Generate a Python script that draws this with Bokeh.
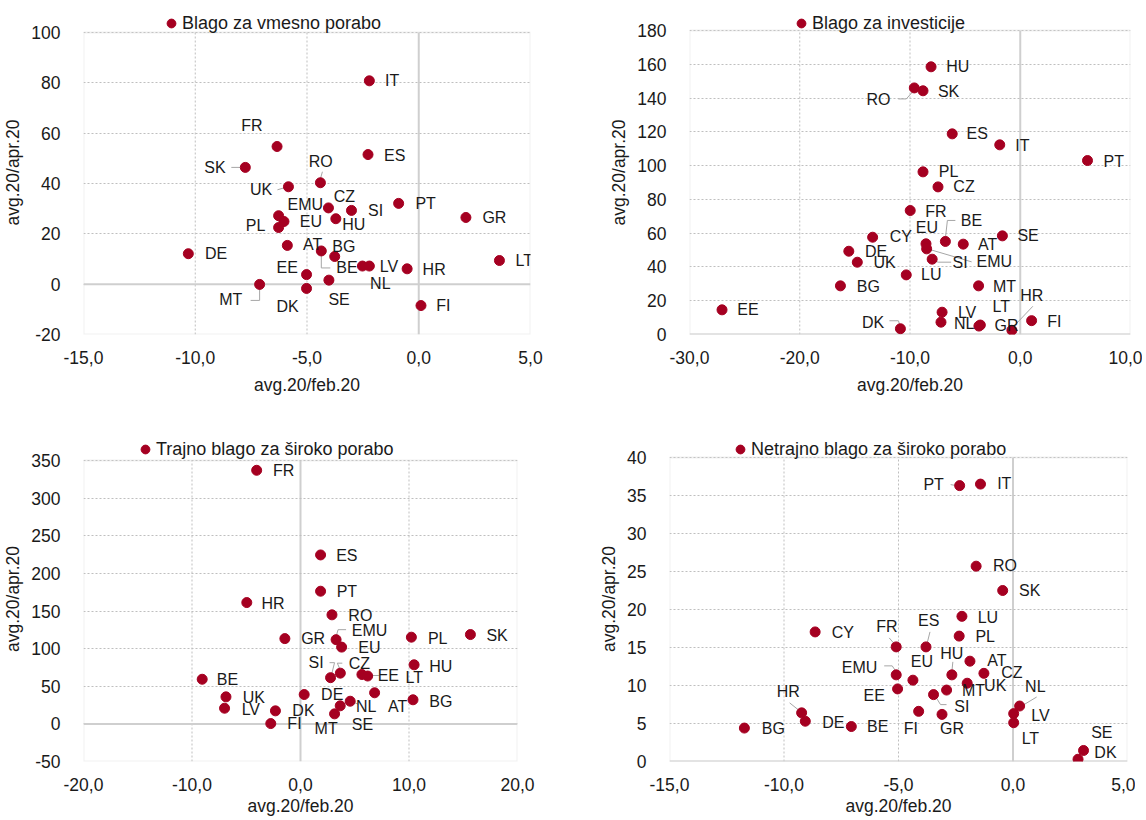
from bokeh.plotting import figure
from bokeh.models import (ColumnDataSource, FixedTicker, CustomJSTickFormatter, Span,
                          Legend, LegendItem, Range1d, BoxAnnotation)
from bokeh.layouts import column, row
from bokeh.embed import file_html
from bokeh.resources import INLINE
from bokeh.core.properties import value

# ---------------- data ----------------
X_TITLE = "avg.20/feb.20"
Y_TITLE = "avg.20/apr.20"

p1_title = "Blago za vmesno porabo"
p1_labels = ["IT", "FR", "ES", "SK", "RO", "UK", "PT", "CZ", "EMU", "SI", "GR", "HU", "EU", "PL",
             "DE", "AT", "BG", "BE", "NL", "LV", "HR", "LT", "EE", "SE", "MT", "DK", "FI"]
p1_x = [-2.21, -6.34, -2.27, -7.76, -4.40, -5.83, -0.90, -4.04, -6.27, -3.01, 2.11, -3.71, -6.03, -6.27,
        -10.31, -5.88, -3.76, -4.36, -2.52, -2.21, -0.52, 3.61, -5.02, -4.02, -7.12, -5.02, 0.10]
p1_y = [80.8, 54.7, 51.5, 46.4, 40.3, 38.7, 32.1, 30.3, 27.2, 29.3, 26.5, 26.0, 24.9, 22.5,
        12.1, 15.4, 11.0, 13.2, 7.2, 7.2, 6.1, 9.4, 3.8, 1.6, -0.1, -1.7, -8.5]
p1_xticks = [-15, -10, -5, 0, 5]
p1_yticks = [-20, 0, 20, 40, 60, 80, 100]

p2_title = "Blago za investicije"
p2_labels = ["HU", "RO", "SK", "ES", "IT", "PT", "PL", "CZ", "FR", "CY", "EU", "BE", "AT", "SE", "EMU",
             "SI", "DE", "UK", "LU", "BG", "MT", "EE", "LV", "NL", "LT", "GR", "HR", "FI", "DK"]
p2_x = [-8.09, -9.61, -8.82, -6.17, -1.86, 6.10, -8.82, -7.46, -9.98, -13.39, -8.55, -6.79, -5.17, -1.62, -8.49,
        -7.99, -15.55, -14.78, -10.34, -16.31, -3.78, -27.05, -7.09, -7.19, -3.62, -3.75, -0.76, 1.03, -10.87]
p2_y = [158.5, 146.0, 144.3, 118.8, 112.3, 103.0, 96.3, 87.4, 73.4, 57.6, 53.7, 55.1, 53.5, 58.4, 50.7,
        44.6, 49.3, 42.8, 35.3, 28.8, 28.8, 14.6, 13.2, 7.3, 5.6, 5.0, 2.5, 8.2, 3.4]
p2_xticks = [-30, -20, -10, 0, 10]
p2_yticks = [0, 20, 40, 60, 80, 100, 120, 140, 160, 180]

p3_title = "Trajno blago za široko porabo"
p3_labels = ["FR", "ES", "PT", "HR", "RO", "GR", "EMU", "EU", "PL", "SK", "HU", "SI", "CZ", "EE",
             "LT", "BE", "UK", "LV", "DE", "AT", "NL", "SE", "MT", "DK", "FI", "BG"]
p3_x = [-4.04, 1.85, 1.85, -4.95, 2.90, -1.44, 3.28, 3.79, 10.22, 15.66, 10.47, 2.77, 3.67, 5.66,
        6.19, -9.06, -6.87, -7.00, 0.34, 6.83, 4.58, 3.66, 3.14, -2.31, -2.74, 10.37]
p3_y = [337.0, 224.5, 176.3, 161.2, 144.9, 113.3, 111.9, 102.0, 115.2, 118.7, 78.5, 61.4, 67.4, 65.6,
        63.6, 59.3, 35.9, 20.8, 39.0, 41.3, 30.1, 24.0, 13.3, 17.3, 0.4, 32.0]
p3_xticks = [-20, -10, 0, 10, 20]
p3_yticks = [-50, 0, 50, 100, 150, 200, 250, 300, 350]

p4_title = "Netrajno blago za široko porabo"
p4_labels = ["PT", "IT", "RO", "SK", "LU", "PL", "CY", "FR", "ES", "AT", "HU", "CZ", "UK", "MT", "EU",
             "EMU", "EE", "SI", "FI", "GR", "HR", "DE", "BE", "NL", "LV", "LT", "BG", "SE", "DK"]
p4_x = [-2.33, -1.42, -1.61, -0.45, -2.23, -2.35, -8.64, -5.10, -3.80, -1.88, -2.67, -1.27, -2.00, -2.90, -4.37,
        -5.10, -5.04, -3.47, -4.12, -3.10, -9.23, -9.07, -7.06, 0.29, 0.03, 0.03, -11.73, 3.08, 2.84]
p4_y = [36.3, 36.5, 25.7, 22.5, 19.1, 16.5, 17.05, 15.08, 15.08, 13.2, 11.4, 11.6, 10.3, 9.4, 10.7,
        11.4, 9.55, 8.8, 6.6, 6.2, 6.4, 5.3, 4.6, 7.3, 6.3, 5.1, 4.4, 1.45, 0.3]
p4_xticks = [-15, -10, -5, 0, 5]
p4_yticks = [0, 5, 10, 15, 20, 25, 30, 35, 40]

# ---------------- label placement (screen px, label centre relative to point, y down) ----------------
p1_offs = {"IT": (22.7, 0), "FR": (-25.2, -20.7), "ES": (26.7, 0.7), "SK": (-30.3, 0), "RO": (0.4, -21),
           "UK": (-27.4, 2.7), "PT": (27, 0), "CZ": (16, -11.7), "EMU": (26.7, -11.7), "SI": (24.1, 0),
           "GR": (28.5, 0), "HU": (17.9, 5.7), "EU": (27, 0), "PL": (-23, -1.7), "DE": (27.8, 0),
           "AT": (25.2, -1), "BG": (9.1, -10.3), "BE": (25.6, 16.3), "NL": (17.9, 17.3), "LV": (19.7, 0),
           "HR": (27, 0.7), "LT": (24.9, 0), "EE": (-19.4, -7), "SE": (10.2, 19.3), "MT": (-28.9, 15),
           "DK": (-19, 18.3), "FI": (22.3, 0)}
p1_lead = {"SK": [(-14, 0), (-5, 0)], "RO": [(2, -11), (0, -4)], "UK": [(-11, 3), (-4, 1)],
           "BE": [(0, 4), (0, 17), (9, 17)], "MT": [(0, 3), (0, 16), (-9, 16)]}

p2_offs = {"HU": (26.7, 0), "RO": (-35.8, 12), "SK": (25.6, 0.7), "ES": (24.9, 0), "IT": (22.7, 0.7),
           "PT": (26.3, 0.7), "PL": (25.6, 0), "CZ": (26, 0), "FR": (25.7, 0.7), "CY": (28.3, -0.7),
           "EU": (1, -16), "BE": (26, -20.7), "AT": (24.3, 0), "SE": (25.7, 0), "EMU": (67.7, 13),
           "SI": (28, 3.7), "DE": (27.3, 0), "UK": (27.3, 0.3), "LU": (25, 0), "BG": (28, 1), "MT": (26, 1),
           "EE": (26, 0), "LV": (25, 0), "NL": (23.3, 1), "LT": (21, -18.3), "GR": (27.7, -1),
           "HR": (20, -34.3), "FI": (22.7, 0.7), "DK": (-27.3, -6.7)}
p2_lead = {"RO": [(-16, 11), (-8, 11), (0, 2)], "BE": [(0, -3), (2, -21), (10, -21)],
           "EMU": [(1, 0), (45, 13)], "SI": [(1, 1), (6, 3), (19, 3)], "HR": [(1, -3), (21, -24)],
           "DK": [(-11, -8), (-2, -8), (0, -2)]}

p3_offs = {"FR": (27, 0.7), "ES": (26.3, 0.7), "PT": (26.3, 0.7), "HR": (26.3, 0.7), "RO": (28.4, 0.7),
           "GR": (28.3, 0.3), "EMU": (33.4, -9), "EU": (27.7, 0), "PL": (26.3, 1.6), "SK": (26.7, 0.7),
           "HU": (26.6, 1.4), "SI": (-14.4, -15.6), "CZ": (19, -10), "EE": (26.4, 1), "LT": (46.7, 1.4),
           "BE": (25.2, 0.7), "UK": (27.8, 0.7), "LV": (26.3, 1.7), "DE": (28, 0.3), "AT": (23, 13.7),
           "NL": (16, 5.3), "SE": (22.3, 18.7), "MT": (-8.4, 15), "DK": (28, -0.3), "FI": (23.7, 0.3),
           "BG": (27.8, 1.3)}
p3_lead = {"EMU": [(0, -3), (2, -10), (10, -10)], "SI": [(1, -3), (4, -15), (-1, -15)],
           "CZ": [(0, -3), (-3, -10), (2, -10)], "EE": [(7, 1), (17, 1)], "NL": [(1, 0), (8, 3)]}

p4_offs = {"PT": (-26, -1), "IT": (23.8, -0.7), "RO": (28.9, -0.7), "SK": (27, 0), "LU": (26, 0.7),
           "PL": (26, 0.3), "CY": (27.7, 1), "FR": (-9.3, -20.7), "ES": (2.7, -26), "AT": (27, -0.3),
           "HU": (0, -21.3), "CZ": (28, -0.7), "UK": (28, 2.3), "MT": (27, 0), "EU": (9, -19),
           "EMU": (-36.7, -7.3), "EE": (-23.3, 6.3), "SI": (28.3, 11.7), "FI": (-7.7, 17.3),
           "GR": (10, 14.3), "HR": (-13.3, -21.7), "DE": (28, 1), "BE": (26.3, 0.3), "NL": (15.7, -19.3),
           "LV": (26.7, 1.7), "LT": (16.7, 15.7), "BG": (28.9, 0), "SE": (18.3, -18), "DK": (27.4, -6.5)}
p4_lead = {"PT": [(-9, -1), (-3, 0)], "FR": [(-1, -2), (-7, -9)], "ES": [(1, -3), (4, -15)],
           "HU": [(0, -3), (1, -13)], "EMU": [(-12, -9), (-4, -9), (0, -3)],
           "SI": [(2, 2), (7, 10), (13, 10)], "HR": [(-12, -10), (-2, -2)], "NL": [(2, 0), (17, -9)]}

# ---------------- styling ----------------
FONT = "Liberation Sans"
RED = "#A50021"
TXT = "#1A1A1A"
GRID = "#BFBFBF"
ZERO = "#CFCFCF"
BOX = "#D0D0D0"
LEAD = "#A6A6A6"


def make_panel(title, labels, xs, ys, offs, leads, xr, yr, xticks, yticks,
               fw, fh_box, ext, borders, legend_xy, bottom_std):
    """The frame is ext px taller than the plot box so the legend row fits inside it."""
    bl, br, bt, bb = borders
    fh = fh_box + ext
    y_top = yr[1] + ext * (yr[1] - yr[0]) / fh_box
    p = figure(frame_width=fw, frame_height=fh, x_range=Range1d(*xr), y_range=Range1d(yr[0], y_top),
               output_backend="svg", toolbar_location=None,
               min_border_left=bl, min_border_right=br, min_border_top=bt, min_border_bottom=bb)
    p.outline_line_color = None
    p.xaxis.ticker = FixedTicker(ticks=xticks)
    p.yaxis.ticker = FixedTicker(ticks=yticks)
    p.xaxis.formatter = CustomJSTickFormatter(code="return tick.toFixed(1).replace('.', ',');")
    p.yaxis.formatter = CustomJSTickFormatter(code="return tick.toFixed(0);")
    for ax in (p.xaxis, p.yaxis):
        ax.axis_line_color = None
        ax.major_tick_line_color = None
        ax.minor_tick_line_color = None
        ax.major_label_text_font = FONT
        ax.major_label_text_font_size = "17.5px"
        ax.major_label_text_color = TXT
        ax.axis_label_text_font = FONT
        ax.axis_label_text_font_size = "17.5px"
        ax.axis_label_text_font_style = "normal"
        ax.axis_label_text_color = TXT
    p.xaxis.axis_label = X_TITLE
    p.yaxis.axis_label = Y_TITLE
    p.xaxis.major_label_standoff = bottom_std[0]
    p.xaxis.axis_label_standoff = bottom_std[1]
    p.yaxis.major_label_standoff = 17
    p.yaxis.axis_label_standoff = 5

    # horizontal grid from the y ticks; vertical grid limited to the plot box
    p.xgrid.visible = False
    p.ygrid.grid_line_color = GRID
    p.ygrid.grid_line_dash = "2 2"
    p.ygrid.grid_line_width = 1
    inner = [t for t in xticks if xr[0] < t < xr[1] and t != 0]
    p.segment(x0=inner, y0=[yr[0]] * len(inner), x1=inner, y1=[yr[1]] * len(inner),
              line_color=GRID, line_dash="2 2", line_width=1, level="underlay")
    p.segment(x0=[0], y0=[yr[0]], x1=[0], y1=[yr[1]], line_color=ZERO, line_width=2, level="underlay")
    p.add_layout(Span(location=0, dimension="width", line_color=ZERO, line_width=2, level="underlay"))
    p.add_layout(BoxAnnotation(left=xr[0], right=xr[1], bottom=yr[0], top=yr[1], fill_alpha=0,
                               line_color=BOX, line_width=2, level="underlay"))

    kx = (xr[1] - xr[0]) / fw
    ky = (y_top - yr[0]) / fh
    lx, ly = [], []
    for lab, x, y in zip(labels, xs, ys):
        if lab in leads:
            lx.append([x + dx * kx for dx, dy in leads[lab]])
            ly.append([y - dy * ky for dx, dy in leads[lab]])
    if lx:
        p.multi_line(lx, ly, line_color=LEAD, line_width=1)

    src = ColumnDataSource(dict(x=xs, y=ys, label=labels,
                                dx=[offs[l][0] for l in labels], dy=[offs[l][1] for l in labels]))
    r = p.scatter("x", "y", source=src, size=10, fill_color=RED, line_color=RED)
    p.text(x="x", y="y", text="label", x_offset="dx", y_offset="dy", source=src,
           text_font=value(FONT), text_font_size="16px", text_color=TXT,
           text_align="center", text_baseline="middle")

    leg = Legend(items=[LegendItem(label=title, renderers=[r])], location=legend_xy,
                 padding=0, margin=0, spacing=0, glyph_width=22, glyph_height=24,
                 label_height=24, label_standoff=0, border_line_color=None,
                 background_fill_alpha=0, label_text_font=FONT, label_text_font_size="18px",
                 label_text_color=TXT)
    p.add_layout(leg)
    return p


p1 = make_panel(p1_title, p1_labels, p1_x, p1_y, p1_offs, p1_lead, (-15, 5), (-20, 100),
                p1_xticks, p1_yticks, 447, 302, 22, (71, 47, 10, 76), (77, 299), (10, 8))
p2 = make_panel(p2_title, p2_labels, p2_x, p2_y, p2_offs, p2_lead, (-30, 10), (0, 180),
                p2_xticks, p2_yticks, 441, 304, 20, (112, 12, 10, 76), (101, 299), (10, 8))
p3 = make_panel(p3_title, p3_labels, p3_x, p3_y, p3_offs, p3_lead, (-20, 20), (-50, 350),
                p3_xticks, p3_yticks, 434, 301, 24, (78, 53, 26, 51), (51, 300), (10, 2))
p4 = make_panel(p4_title, p4_labels, p4_x, p4_y, p4_offs, p4_lead, (-15, 5), (0, 40),
                p4_xticks, p4_yticks, 458, 304, 21, (99, 8, 26, 51), (60, 300), (10, 2))

layout = column(row(p1, p2), row(p3, p4))
open("out.html", "w").write(file_html(layout, INLINE))
